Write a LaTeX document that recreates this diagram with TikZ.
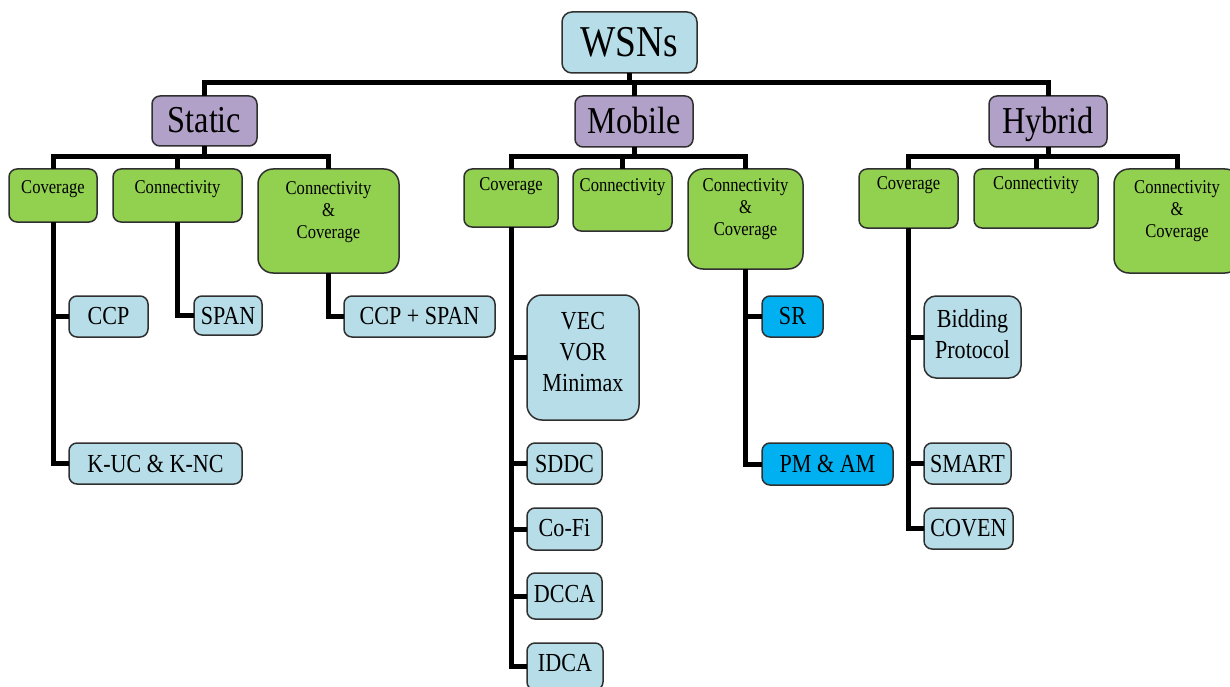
\documentclass[tikz,border=0pt]{standalone}
\usepackage{fontspec}
\setmainfont{Liberation Serif}[FakeStretch=0.85]
\definecolor{lb}{HTML}{B7DEE8}
\definecolor{pu}{HTML}{B1A0C7}
\definecolor{gr}{HTML}{92D050}
\definecolor{bl}{HTML}{00B0F0}
\definecolor{bd}{HTML}{303030}
\newcommand\bxt[4]{\parbox[c][#2pt][t]{#1pt}{\centering\vspace*{#3pt}#4\par}}
\tikzset{
  base box/.style={draw=bd, line width=1.5pt, inner sep=0pt, outer sep=0pt, rounded corners=8pt},
  topbox/.style={base box, fill=lb, rounded corners=10pt, font=\fontsize{44}{50}\selectfont},
  catbox/.style={base box, fill=pu, font=\fontsize{38}{44}\selectfont},
  gbox/.style={base box, fill=gr, font=\fontsize{19.5}{22}\selectfont},
  gbig/.style={gbox, rounded corners=15pt},
  leaf/.style={base box, fill=lb, font=\fontsize{26}{31}\selectfont},
  leafbig/.style={leaf, rounded corners=15pt},
  bleaf/.style={leaf, fill=bl},
  conn/.style={line width=5pt, black}
}
\begin{document}
\begin{tikzpicture}[x=1pt,y=-1pt]
\useasboundingbox (0,0) rectangle (1230,687);
% top levels
\node[topbox] (wsn) at (629.5,42.5) {\bxt{135}{61}{15.5}{WSNs}};
\node[catbox] (static) at (204.5,121) {\bxt{105}{50}{11.5}{Static}};
\node[catbox] (mobile) at (634,121.5) {\bxt{118}{51}{11.5}{Mobile}};
\node[catbox] (hybrid) at (1048,121.5) {\bxt{118}{51}{11.5}{Hybrid}};
% green
\node[gbox] (sc) at (53,195.5) {\bxt{88}{53}{12}{Coverage}};
\node[gbox] (scn) at (177.5,195.5) {\bxt{129}{53}{12}{Connectivity}};
\node[gbig] (scc) at (328.5,221) {\bxt{141}{104}{13}{Connectivity\\\&\\Coverage}};
\node[gbox] (mc) at (511,198) {\bxt{94}{58}{9}{Coverage}};
\node[gbox] (mcn) at (622.5,200) {\bxt{99}{62}{10}{Connectivity}};
\node[gbig] (mcc) at (745.5,219) {\bxt{115}{100}{10}{Connectivity\\\&\\Coverage}};
\node[gbox] (hc) at (908.5,198.5) {\bxt{99}{59}{8}{Coverage}};
\node[gbox] (hcn) at (1036,198.5) {\bxt{124}{59}{8}{Connectivity}};
\node[gbig] (hcc) at (1177,221) {\bxt{126}{104}{12}{Connectivity\\\&\\Coverage}};
% leaves
\node[leaf] (ccp) at (108.5,316.5) {\bxt{79}{41}{11.6}{CCP}};
\node[leaf] (kuc) at (155.5,463.5) {\bxt{173}{41}{12.6}{K-UC \& K-NC}};
\node[leaf] (span) at (228,315.5) {\bxt{68}{39}{11.6}{SPAN}};
\node[leaf] (ccps) at (419.5,316.5) {\bxt{151}{41}{11.6}{CCP + SPAN}};
\node[leafbig] (vec) at (583,357.5) {\bxt{112}{125}{17.6}{VEC\\VOR\\Minimax}};
\node[leaf] (sddc) at (564.5,463.5) {\bxt{75}{41}{12.6}{SDDC}};
\node[leaf] (cofi) at (564.5,529) {\bxt{75}{42}{11.6}{Co-Fi}};
\node[leaf] (dcca) at (564.5,596) {\bxt{75}{46}{12.6}{DCCA}};
\node[leaf] (idca) at (565,666.5) {\bxt{76}{47}{11.6}{IDCA}};
\node[bleaf] (sr) at (792.5,316.5) {\bxt{61}{41}{11.6}{SR}};
\node[bleaf] (pmam) at (827.5,464) {\bxt{131}{42}{12.6}{PM \& AM}};
\node[leaf, rounded corners=12pt] (bid) at (972.5,337) {\bxt{97}{82}{13}{Bidding\\Protocol}};
\node[leaf] (smart) at (967.5,463.5) {\bxt{87}{41}{12.6}{SMART}};
\node[leaf] (coven) at (968.5,528.5) {\bxt{89}{41}{11.6}{COVEN}};
% connectors: top
\coordinate (b0) at (629.5,83);
\draw[conn] (wsn.south) -- (b0);
\draw[conn] (static.north) |- (b0) -| (hybrid.north);
\draw[conn] (mobile.north) |- (b0);
% static children
\coordinate (bs) at (204.5,157);
\draw[conn] (static.south) -- (bs);
\draw[conn] (sc.north) |- (bs) -| (scc.north);
\draw[conn] (scn.north) -- (scn.north |- bs);
% mobile children
\coordinate (bm) at (634,157);
\draw[conn] (mobile.south) -- (bm);
\draw[conn] (mc.north) |- (bm) -| (mcc.north);
\draw[conn] (mcn.north) -- (mcn.north |- bm);
% hybrid children
\coordinate (bh) at (1048,157);
\draw[conn] (hybrid.south) -- (bh);
\draw[conn] (hc.north) |- (bh) -| (hcc.north);
\draw[conn] (hcn.north) -- (hcn.north |- bh);
% leaves
\draw[conn] (sc.south) |- (ccp.west);
\draw[conn] (sc.south) |- (kuc.west);
\draw[conn] (scn.south) |- (span.west);
\draw[conn] (scc.south) |- (ccps.west);
\draw[conn] (mc.south) |- (vec.west);
\draw[conn] (mc.south) |- (sddc.west);
\draw[conn] (mc.south) |- (cofi.west);
\draw[conn] (mc.south) |- (dcca.west);
\draw[conn] (mc.south) |- (idca.west);
\draw[conn] (mcc.south) |- (sr.west);
\draw[conn] (mcc.south) |- (pmam.west);
\draw[conn] (hc.south) |- (bid.west);
\draw[conn] (hc.south) |- (smart.west);
\draw[conn] (hc.south) |- (coven.west);
\end{tikzpicture}
\end{document}
